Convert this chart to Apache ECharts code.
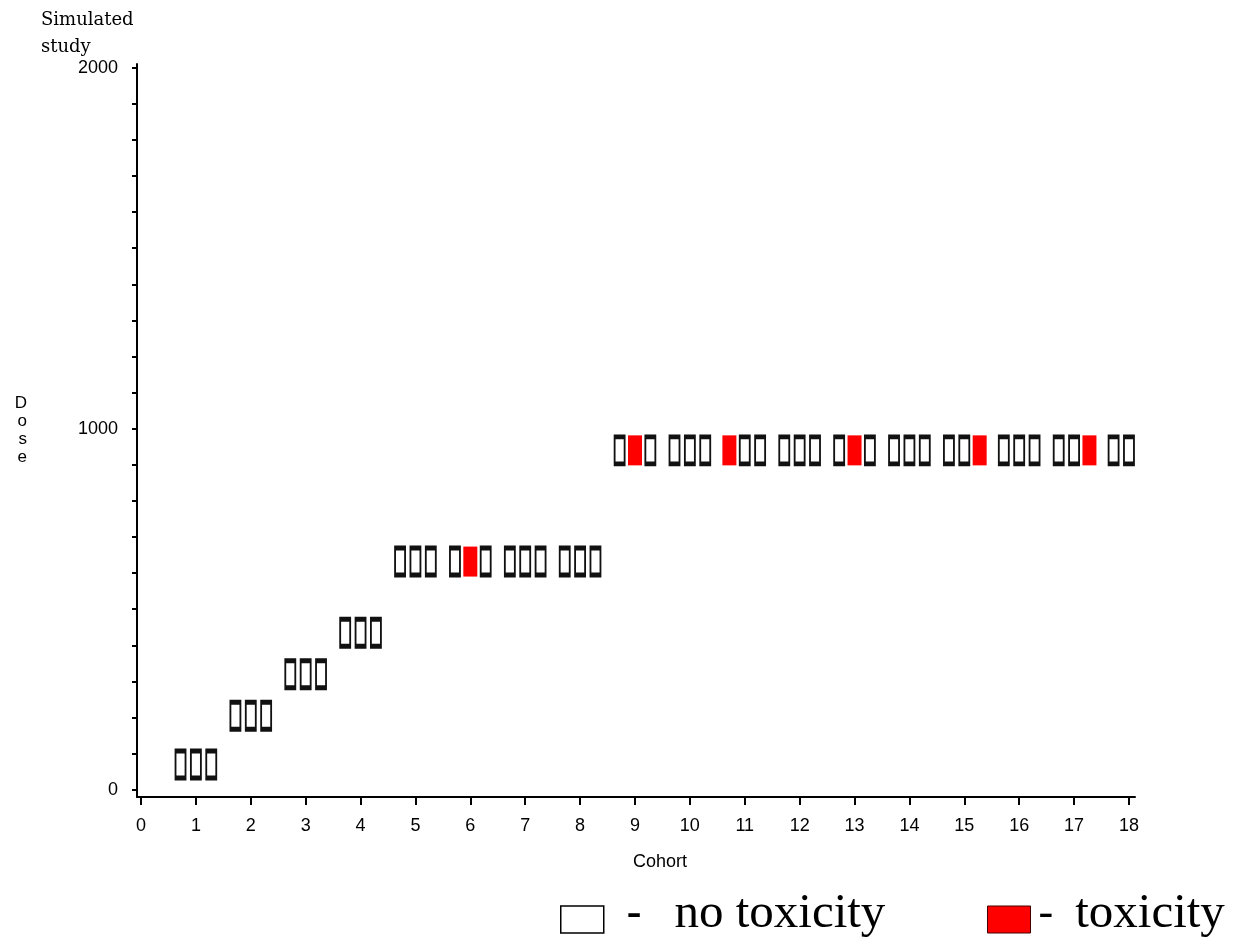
<!DOCTYPE html>
<html><head><meta charset="utf-8">
<script src="https://cdn.jsdelivr.net/npm/echarts@6/dist/echarts.min.js"></script>
<style>html,body{margin:0;padding:0;background:#fff}#c{width:1239px;height:940px}</style>
</head><body><div id="c"></div>
<script>
// ---- data ----
const cohorts = [1, 2, 3, 4, 5, 6, 7, 8, 9, 10, 11, 12, 13, 14, 15, 16, 17, 18];
const doses = [70, 205, 320, 435, 632, 632, 632, 632, 940, 940, 940, 940, 940, 940, 940, 940, 940, 940];
// toxicity flag for the three patients of every cohort (1 = toxicity)
const toxicity = [
  [0,0,0],[0,0,0],[0,0,0],[0,0,0],[0,0,0],[0,1,0],[0,0,0],[0,0,0],
  [0,1,0],[0,0,0],[1,0,0],[0,0,0],[0,1,0],[0,0,0],[0,0,1],[0,0,0],[0,0,1],[0,0,0]
];
const xTickValues = [0, 1, 2, 3, 4, 5, 6, 7, 8, 9, 10, 11, 12, 13, 14, 15, 16, 17, 18];
const yTickValues = [0, 100, 200, 300, 400, 500, 600, 700, 800, 900, 1000, 1100, 1200, 1300, 1400, 1500, 1600, 1700, 1800, 1900, 2000];
const yLabelValues = [0, 1000, 2000];
const seriesNames = ['no toxicity', 'toxicity'];
const titleText = 'Simulated\nstudy';
const xName = 'Cohort';
const yName = 'Dose';

// ---- build ----
const slot = [-0.28, 0, 0.28]; // display jitter of the three patients inside a cohort
const noTox = [], tox = [];
cohorts.forEach((c, i) => {
  toxicity[i].forEach((t, j) => {
    const p = [c + slot[j], doses[i]];
    (t ? tox : noTox).push(p);
  });
});

const chart = echarts.init(document.getElementById('c'));
const axisColor = '#000';
const sans = '"Liberation Sans", Arial, sans-serif';
const serif = '"Liberation Serif", "Times New Roman", serif';

chart.setOption({
  backgroundColor: '#fff',
  animation: false,
  title: {
    text: titleText, left: 41, top: 7, padding: 0,
    textStyle: { fontFamily: '"DejaVu Serif", serif', fontSize: 18, fontWeight: 'normal', lineHeight: 27, color: '#000' }
  },
  grid: { left: 137, right: 104, top: 64, bottom: 143 },
  xAxis: {
    type: 'value', min: -0.073, max: 18.11,
    axisLine: { show: true, onZero: false, lineStyle: { color: axisColor, width: 2 } },
    axisTick: { show: true, customValues: xTickValues, length: 8, lineStyle: { color: axisColor, width: 2 } },
    axisLabel: { customValues: xTickValues, margin: 20, fontFamily: sans, fontSize: 18, color: '#000', formatter: v => String(v) },
    splitLine: { show: false },
    name: xName, nameLocation: 'middle', nameGap: 56,
    nameTextStyle: { fontFamily: sans, fontSize: 18, color: '#000', padding: [0, 0, 0, 48] }
  },
  yAxis: {
    type: 'value', min: -20, max: 2010,
    axisLine: { show: true, onZero: false, lineStyle: { color: axisColor, width: 2 } },
    axisTick: { show: true, customValues: yTickValues, length: 5, lineStyle: { color: axisColor, width: 2 } },
    axisLabel: { customValues: yLabelValues, margin: 19, fontFamily: sans, fontSize: 18, color: '#000', formatter: v => String(v) },
    splitLine: { show: false },
    name: yName.split('').join('\n'), nameLocation: 'middle', nameRotate: 0, nameGap: 110,
    nameTextStyle: { fontFamily: sans, fontSize: 17, lineHeight: 18, color: '#000' }
  },
  legend: [
    {
      data: [{ name: seriesNames[0], icon: 'rect', itemStyle: { color: '#fff', borderColor: '#000', borderWidth: 1.5 } }],
      left: 560, top: 890, padding: 0, itemWidth: 43, itemHeight: 27, selectedMode: false,
      formatter: n => '{d|-}{t|' + n + '}',
      textStyle: { rich: {
        d: { fontFamily: serif, fontWeight: 'bold', fontSize: 44, color: '#000', padding: [0, 33, 10, 18], lineHeight: 30 },
        t: { fontFamily: serif, fontSize: 49, color: '#000', lineHeight: 30, padding: [0, 0, 10, 0] }
      } }
    },
    {
      data: [{ name: seriesNames[1], icon: 'rect', itemStyle: { color: '#ff0000', borderColor: '#400', borderWidth: 1 } }],
      left: 987, top: 890, padding: 0, itemWidth: 43, itemHeight: 27, selectedMode: false,
      formatter: n => '{d|-}{t|' + n + '}',
      textStyle: { rich: {
        d: { fontFamily: serif, fontSize: 44, color: '#000', padding: [0, 22, 10, 3], lineHeight: 30 },
        t: { fontFamily: serif, fontSize: 49, color: '#000', lineHeight: 30, padding: [0, 0, 10, 0] }
      } }
    }
  ],
  series: [
    {
      name: seriesNames[0], type: 'scatter', data: noTox, symbol: 'rect', symbolSize: [10, 27],
      itemStyle: { color: '#fff', borderColor: '#111', borderWidth: 3, opacity: 1 },
      emphasis: { disabled: true }
    },
    {
      name: seriesNames[1], type: 'scatter', data: tox, symbol: 'rect', symbolSize: [14, 30],
      itemStyle: { color: '#ff0000', borderWidth: 0, opacity: 1 },
      emphasis: { disabled: true }
    }
  ]
});
</script></body></html>
